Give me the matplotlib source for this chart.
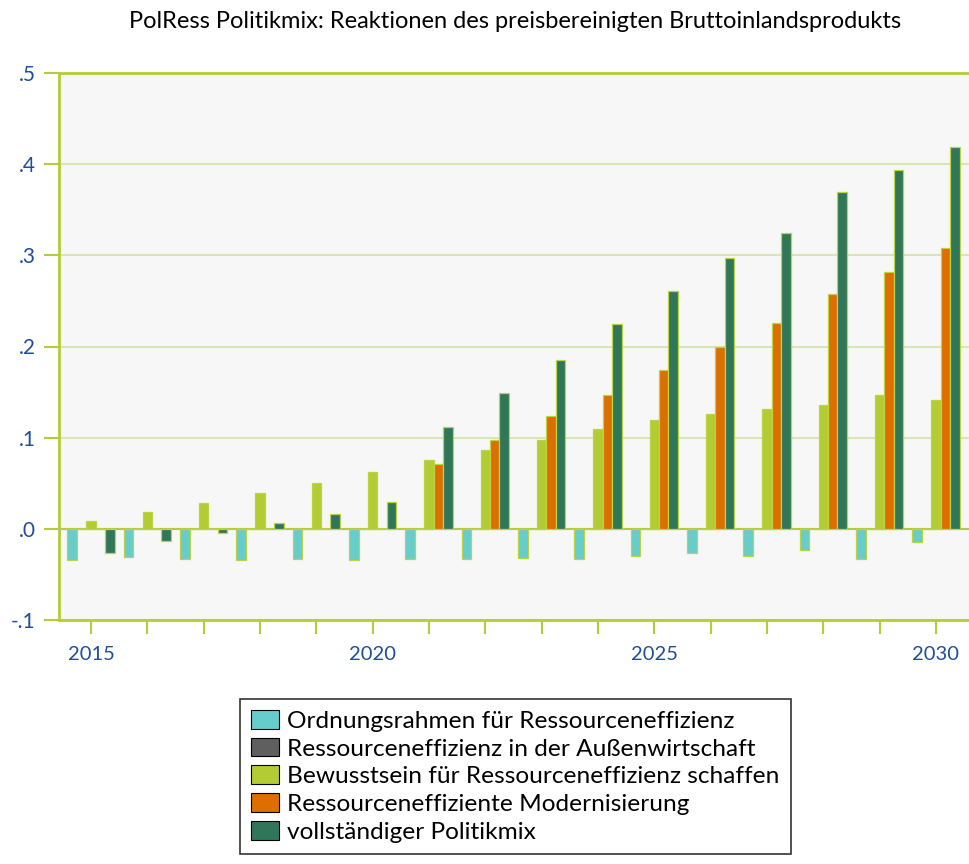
import matplotlib
matplotlib.use("Agg")
import matplotlib.pyplot as plt
import numpy as np
from matplotlib.ticker import FixedLocator, FuncFormatter

plt.rcParams['font.family'] = ['Lato', 'DejaVu Sans']

years = list(range(2015, 2031))
series_names = [
    "Ordnungsrahmen für Ressourceneffizienz",
    "Ressourceneffizienz in der Außenwirtschaft",
    "Bewusstsein für Ressourceneffizienz schaffen",
    "Ressourceneffiziente Modernisierung",
    "vollständiger Politikmix",
]
ordnungsrahmen = [-0.034, -0.031, -0.033, -0.034, -0.033, -0.034, -0.033, -0.033,
                  -0.032, -0.033, -0.030, -0.027, -0.030, -0.023, -0.033, -0.014]
aussenwirtschaft = [0.0] * 16
bewusstsein = [0.009, 0.018, 0.028, 0.039, 0.050, 0.062, 0.075, 0.087,
               0.097, 0.109, 0.119, 0.126, 0.131, 0.136, 0.147, 0.141]
modernisierung = [0.0, 0.0, 0.0, 0.0, 0.0, 0.0, 0.071, 0.097,
                  0.124, 0.147, 0.174, 0.200, 0.226, 0.258, 0.282, 0.308]
politikmix = [-0.026, -0.013, -0.005, 0.006, 0.016, 0.029, 0.112, 0.149,
              0.185, 0.225, 0.261, 0.297, 0.325, 0.370, 0.394, 0.419]
series = [ordnungsrahmen, aussenwirtschaft, bewusstsein, modernisierung, politikmix]
colors = ["#66cccc", "#5f5f5f", "#b3cc33", "#dd6e00", "#30775a"]

frame_col = "#b5cc3a"
grid_col = "#d6e6b4"
label_col = "#1f4e9a"

W, H = 969, 864
fig = plt.figure(figsize=(W / 100, H / 100), dpi=100)
fig.patch.set_facecolor("white")
ax = fig.add_axes([59 / W, (H - 620) / H, (W - 59) / W + 0.01, (620 - 73) / H])
ax.set_facecolor("#f7f7f7")

bw = 0.167
x = np.array(years, dtype=float)
handles = []
for i, (vals, c) in enumerate(zip(series, colors)):
    h = ax.bar(x + (i - 2) * bw, vals, width=bw, color=c, edgecolor="#bcd444",
               linewidth=0.9, zorder=3, label=series_names[i])
    handles.append(h)

ax.set_xlim(2014.432, 2030.586 + 0.01 * W / 56.33)
ax.set_ylim(-0.1, 0.5)
ax.axhline(0, color=frame_col, lw=1.5, zorder=2)

ax.yaxis.set_major_locator(FixedLocator([-0.1, 0.0, 0.1, 0.2, 0.3, 0.4, 0.5]))
def yfmt(v, pos):
    s = f"{v:.1f}"
    return s.replace("0.", ".")
ax.yaxis.set_major_formatter(FuncFormatter(yfmt))
ax.grid(axis="y", color=grid_col, lw=1.5, zorder=1)

ax.xaxis.set_major_locator(FixedLocator([2015, 2020, 2025, 2030]))
ax.xaxis.set_minor_locator(FixedLocator(years))
ax.xaxis.set_major_formatter(FuncFormatter(lambda v, p: f"{int(v)}"))

for s in ["left", "bottom", "top"]:
    ax.spines[s].set_color(frame_col)
    ax.spines[s].set_linewidth(2)
ax.spines["right"].set_visible(False)

ax.tick_params(axis="y", which="major", length=11, width=1.5, color=frame_col,
               labelcolor=label_col, labelsize=15, pad=6)
ax.tick_params(axis="x", which="both", length=10, width=1.5, color=frame_col,
               labelcolor=label_col, labelsize=14.5, pad=9, direction="out")

fig.text(515 / W, 1 - 21 / H,
         "PolRess Politikmix: Reaktionen des preisbereinigten Bruttoinlandsprodukts",
         ha="center", va="center", fontsize=17, color="black")

leg = fig.legend(handles=handles, loc="upper left",
                 bbox_to_anchor=(240 / W, 1 - 699 / H), frameon=True,
                 fontsize=17.6, handlelength=1.15, handleheight=0.8,
                 handletextpad=0.33, labelspacing=0.24, borderpad=0.45,
                 fancybox=False, edgecolor="black", borderaxespad=0)
leg.get_frame().set_linewidth(1.2)
for p in leg.get_patches():
    p.set_edgecolor("black")
    p.set_linewidth(0.8)

fig.savefig("out.png", dpi=100)
